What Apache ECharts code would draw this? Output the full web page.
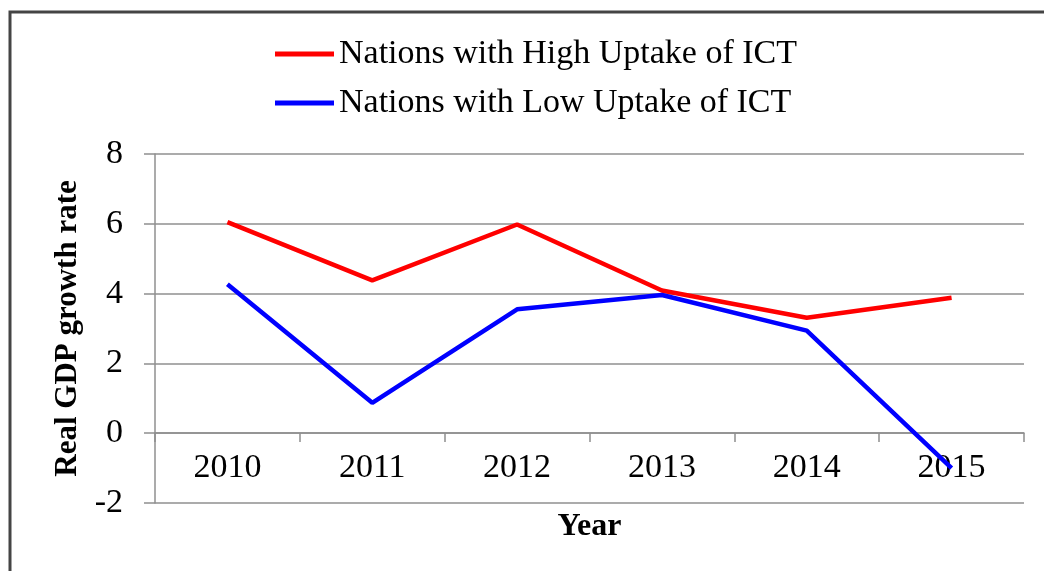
<!DOCTYPE html>
<html>
<head>
<meta charset="utf-8">
<script src="https://cdn.jsdelivr.net/npm/echarts@6/dist/echarts.min.js"></script>
<style>
  html, body { margin: 0; padding: 0; background: #fff; }
  #gdpChart { width: 1044px; height: 571px; }
</style>
</head>
<body>
<div id="gdpChart"></div>
<script>
// values
let years = ["2010", "2011", "2012", "2013", "2014", "2015"];
let highUptake = [6.05, 4.38, 5.98, 4.09, 3.31, 3.88];
let lowUptake = [4.27, 0.87, 3.55, 3.96, 2.94, -1.0];
let seriesNames = ["Nations with High Uptake of ICT", "Nations with Low Uptake of ICT"];

let serif = "'Liberation Serif', 'Times New Roman', serif";
let gridGray = "#8f8f8f";

let chartsOptions = {
  animation: false,
  graphic: [{
    type: "rect",
    shape: { x: 10, y: 12, width: 1200, height: 700 },
    style: { fill: "none", stroke: "#444", lineWidth: 3 },
    silent: true
  }],
  legend: {
    orient: "vertical",
    left: 270,
    top: 32,
    itemGap: 15,
    itemWidth: 59,
    itemHeight: 5,
    icon: "rect",
    textStyle: { fontFamily: serif, fontSize: 34, color: "#000" },
    data: seriesNames
  },
  grid: {
    left: 155,
    right: 20,
    top: 154,
    bottom: 68,
    containLabel: false,
    outerBoundsMode: "none"
  },
  xAxis: {
    type: "category",
    data: years,
    boundaryGap: true,
    // axis sits on the zero line, which is 70px above the grid bottom
    offset: -70,
    name: "Year",
    nameLocation: "middle",
    nameGap: 78,
    nameTextStyle: { fontFamily: serif, fontSize: 32, fontWeight: "bold", color: "#000" },
    axisLine: { onZero: false, lineStyle: { color: gridGray, width: 1.5 } },
    axisTick: { show: true, length: 9, lineStyle: { color: gridGray, width: 1.5 } },
    axisLabel: { fontFamily: serif, fontSize: 34, color: "#000", margin: 18 }
  },
  yAxis: {
    type: "value",
    min: -2,
    max: 8,
    interval: 2,
    name: "Real GDP growth rate",
    nameLocation: "middle",
    nameGap: 68,
    nameTextStyle: { fontFamily: serif, fontSize: 31, fontWeight: "bold", color: "#000" },
    axisLine: { show: true, lineStyle: { color: gridGray, width: 1.5 } },
    axisTick: { show: true, length: 11, lineStyle: { color: gridGray, width: 1.5 } },
    axisLabel: { fontFamily: serif, fontSize: 34, color: "#000", margin: 32 },
    splitLine: { show: true, lineStyle: { color: gridGray, width: 1.5 } }
  },
  series: [
    {
      name: seriesNames[0],
      type: "line",
      symbol: "none",
      data: highUptake,
      itemStyle: { color: "#ff0000" },
      lineStyle: { color: "#ff0000", width: 4.5 }
    },
    {
      name: seriesNames[1],
      type: "line",
      symbol: "none",
      data: lowUptake,
      itemStyle: { color: "#0000ff" },
      lineStyle: { color: "#0000ff", width: 4.5 }
    }
  ]
};

let dataCharts = echarts.init(document.getElementById("gdpChart"));
dataCharts.setOption(chartsOptions);
</script>
</body>
</html>
